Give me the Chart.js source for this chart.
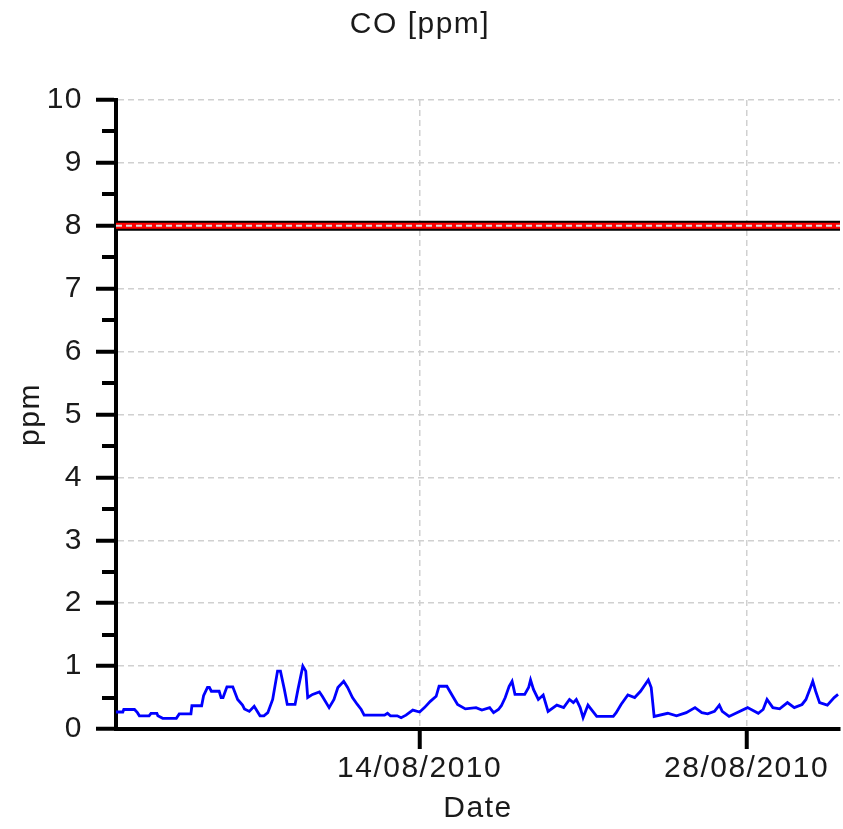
<!DOCTYPE html>
<html><head><meta charset="utf-8">
<script src="https://cdn.jsdelivr.net/npm/chart.js@4.4.1/dist/chart.umd.min.js"></script>
<style>html,body{margin:0;padding:0;background:#fff;}#wrap{width:843px;height:829px;}</style>
</head><body><div id="wrap"><canvas id="c" width="843" height="829"></canvas></div>
<script>
const chartTitle = 'CO [ppm]';
const yAxisTitle = 'ppm';
const xAxisTitle = 'Date';
const startDate = '2010-08-01T00:00';
const endDate = '2010-09-01T00:00';
const times = [
'2010-08-01T00:00','2010-08-01T07:00','2010-08-01T08:00','2010-08-01T19:00','2010-08-01T22:00',
'2010-08-02T00:00','2010-08-02T10:00','2010-08-02T12:00','2010-08-02T18:00','2010-08-02T19:00',
'2010-08-03T00:00','2010-08-03T14:00','2010-08-03T17:00',
'2010-08-04T05:00','2010-08-04T06:00','2010-08-04T16:00','2010-08-04T18:00','2010-08-04T22:00',
'2010-08-05T00:00','2010-08-05T02:00','2010-08-05T10:00','2010-08-05T12:00','2010-08-05T14:00','2010-08-05T18:00',
'2010-08-06T00:00','2010-08-06T05:00','2010-08-06T10:00','2010-08-06T12:00','2010-08-06T17:00','2010-08-06T22:00',
'2010-08-07T04:00','2010-08-07T08:00','2010-08-07T12:00','2010-08-07T17:00','2010-08-07T22:00',
'2010-08-08T01:00','2010-08-08T05:00','2010-08-08T08:00','2010-08-08T16:00','2010-08-08T19:00',
'2010-08-09T00:00','2010-08-09T03:00','2010-08-09T05:00','2010-08-09T10:00','2010-08-09T17:00','2010-08-09T20:00',
'2010-08-10T03:00','2010-08-10T08:00','2010-08-10T12:00','2010-08-10T18:00','2010-08-10T22:00',
'2010-08-11T03:00','2010-08-11T08:00','2010-08-11T12:00','2010-08-11T15:00',
'2010-08-12T12:00','2010-08-12T15:00','2010-08-12T18:00',
'2010-08-13T01:00','2010-08-13T05:00','2010-08-13T10:00','2010-08-13T17:00',
'2010-08-14T00:00','2010-08-14T05:00','2010-08-14T11:00','2010-08-14T17:00','2010-08-14T20:00',
'2010-08-15T04:00','2010-08-15T10:00','2010-08-15T15:00','2010-08-15T23:00',
'2010-08-16T10:00','2010-08-16T16:00',
'2010-08-17T00:00','2010-08-17T04:00','2010-08-17T09:00','2010-08-17T12:00','2010-08-17T16:00','2010-08-17T20:00','2010-08-17T23:00',
'2010-08-18T02:00','2010-08-18T12:00','2010-08-18T16:00','2010-08-18T18:00','2010-08-18T21:00',
'2010-08-19T02:00','2010-08-19T07:00','2010-08-19T12:00','2010-08-19T21:00',
'2010-08-20T04:00','2010-08-20T10:00','2010-08-20T14:00','2010-08-20T17:00','2010-08-20T21:00',
'2010-08-21T00:00','2010-08-21T05:00','2010-08-21T10:00','2010-08-21T14:00',
'2010-08-22T07:00','2010-08-22T10:00','2010-08-22T15:00','2010-08-22T22:00',
'2010-08-23T05:00','2010-08-23T11:00','2010-08-23T19:00','2010-08-23T22:00',
'2010-08-24T01:00','2010-08-24T15:00',
'2010-08-25T00:00','2010-08-25T10:00','2010-08-25T19:00',
'2010-08-26T02:00','2010-08-26T08:00','2010-08-26T15:00','2010-08-26T20:00','2010-08-26T23:00',
'2010-08-27T06:00','2010-08-27T14:00',
'2010-08-28T01:00','2010-08-28T12:00','2010-08-28T17:00','2010-08-28T21:00',
'2010-08-29T03:00','2010-08-29T10:00','2010-08-29T18:00',
'2010-08-30T01:00','2010-08-30T09:00','2010-08-30T13:00','2010-08-30T17:00','2010-08-30T20:00','2010-08-30T23:00',
'2010-08-31T03:00','2010-08-31T11:00','2010-08-31T18:00','2010-08-31T22:00'
];
const coValues = [
0.27,0.27,0.31,0.31,0.26,
0.21,0.21,0.25,0.25,0.21,
0.17,0.17,0.24,
0.24,0.37,0.37,0.53,0.66,
0.66,0.60,0.60,0.50,0.50,0.67,
0.67,0.47,0.38,0.32,0.28,0.36,
0.21,0.21,0.26,0.47,0.92,
0.92,0.63,0.39,0.39,0.63,
1.00,0.92,0.50,0.55,0.59,0.52,
0.34,0.47,0.66,0.76,0.66,
0.50,0.39,0.31,0.22,
0.22,0.25,0.21,
0.21,0.18,0.22,0.30,
0.27,0.34,0.44,0.52,0.68,
0.68,0.52,0.39,0.32,
0.34,0.30,
0.34,0.26,0.31,0.37,0.50,0.68,0.76,
0.55,0.55,0.66,0.78,0.63,
0.47,0.54,0.28,0.38,
0.34,0.47,0.42,0.47,0.34,
0.18,0.38,0.28,0.20,
0.20,0.26,0.39,0.54,
0.50,0.60,0.78,0.66,
0.20,0.25,
0.21,0.26,0.34,
0.26,0.24,0.28,0.38,0.28,
0.20,0.26,
0.34,0.25,0.31,0.47,
0.34,0.32,0.42,
0.34,0.39,0.47,0.63,0.76,0.60,
0.42,0.38,0.50,0.55
];
const limitValue = 8;
const xTickDates = ['2010-08-14T00:00', '2010-08-28T00:00'];
const yMin = 0, yMax = 10, yMajorStep = 1, yMinorStep = 0.5;

const DAY = 86400000;
const t0 = Date.parse(startDate + ':00Z');
const toDays = s => (Date.parse(s + ':00Z') - t0) / DAY;
const xMax = toDays(endDate);
const fmt = d => { const dt = new Date(t0 + d * DAY);
  const p = n => String(n).padStart(2, '0');
  return p(dt.getUTCDate()) + '/' + p(dt.getUTCMonth() + 1) + '/' + dt.getUTCFullYear(); };

const coPoints = times.map((t, i) => ({ x: toDays(t), y: coValues[i] }));
const limitPoints = [{ x: 0, y: limitValue }, { x: xMax, y: limitValue }];

const FONT = 'Liberation Sans, Arial, sans-serif';
const TXT = '#1a1a1a';

const spacing = {
  id: 'spacing',
  beforeDraw(chart) { try { chart.ctx.letterSpacing = '1.5px'; } catch (e) {} }
};

const minorTicks = {
  id: 'minorTicks',
  afterDraw(chart) {
    const y = chart.scales.y, ctx = chart.ctx, left = chart.chartArea.left;
    ctx.save(); ctx.strokeStyle = '#000'; ctx.lineWidth = 4;
    for (let v = yMin + yMinorStep; v < yMax; v += yMajorStep) {
      const py = Math.round(y.getPixelForValue(v));
      ctx.beginPath(); ctx.moveTo(left - 14, py); ctx.lineTo(left, py); ctx.stroke();
    }
    ctx.restore();
  }
};

new Chart(document.getElementById('c'), {
  type: 'line',
  data: {
    datasets: [
      { data: limitPoints, borderColor: '#dcdcdc', borderWidth: 2, borderDash: [6, 4], pointRadius: 0, order: 0 },
      { data: limitPoints, borderColor: '#ff0000', borderWidth: 6, pointRadius: 0, order: 1, borderCapStyle: 'butt' },
      { data: limitPoints, borderColor: '#000000', borderWidth: 10, pointRadius: 0, order: 2, borderCapStyle: 'butt' },
      { label: 'CO', data: coPoints, borderColor: '#0000ff', borderWidth: 2.8, pointRadius: 0, tension: 0, order: 3 }
    ]
  },
  options: {
    responsive: false,
    animation: false,
    layout: { padding: { left: 0, right: 3, top: 0, bottom: 2 } },
    plugins: {
      legend: { display: false },
      tooltip: { enabled: false },
      title: { display: true, text: chartTitle, color: TXT, font: { family: FONT, size: 30, weight: 'normal' }, padding: { top: 7, bottom: 57 } }
    },
    scales: {
      x: {
        type: 'linear', min: 0, max: xMax,
        afterBuildTicks: axis => { axis.ticks = xTickDates.map(s => ({ value: toDays(s) })); },
        ticks: { callback: v => fmt(v), color: TXT, font: { family: FONT, size: 30 }, padding: 2, maxRotation: 0, autoSkip: false },
        grid: { color: '#d0d0d0', lineWidth: 1.5, tickLength: 20, tickWidth: 4, tickColor: '#000', drawOnChartArea: true },
        border: { display: true, color: '#000', width: 4, dash: [6, 4] },
        title: { display: true, text: xAxisTitle, color: TXT, font: { family: FONT, size: 30 }, padding: { top: 2, bottom: 0 } }
      },
      y: {
        min: yMin, max: yMax,
        ticks: { stepSize: yMajorStep, color: TXT, font: { family: FONT, size: 30 }, padding: 13 },
        grid: { color: '#d0d0d0', lineWidth: 1.5, tickLength: 20, tickWidth: 4, tickColor: '#000' },
        border: { display: true, color: '#000', width: 4, dash: [6, 4] },
        title: { display: true, text: yAxisTitle, color: TXT, font: { family: FONT, size: 30 }, padding: { top: 13, bottom: 0 } },
        afterFit: s => { s.width = 116; }
      }
    }
  },
  plugins: [spacing, minorTicks]
});
</script></body></html>
